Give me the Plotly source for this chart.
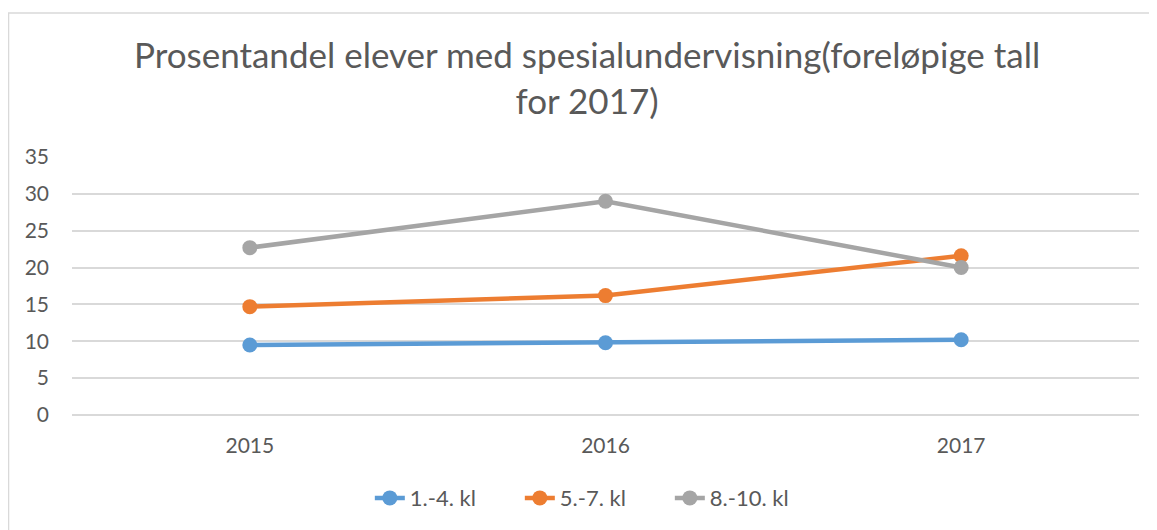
import plotly.graph_objects as go

years = ["2015", "2016", "2017"]
grade_1_4 = [9.5, 9.8, 10.2]
grade_5_7 = [14.7, 16.2, 21.6]
grade_8_10 = [22.7, 29.0, 20.0]

series = [
    ("1.-4. kl", grade_1_4, "#5B9BD5"),
    ("5.-7. kl", grade_5_7, "#ED7D31"),
    ("8.-10. kl", grade_8_10, "#A5A5A5"),
]

font_name = "Lato, Open Sans, sans-serif"
text_color = "#595959"

fig = go.Figure()
for name, values, color in series:
    fig.add_trace(go.Scatter(
        x=years, y=values, name=name, mode="lines+markers",
        line=dict(color=color, width=4.5),
        marker=dict(color=color, size=15)))

# page body adds 8px, so the figure is a bit smaller than the window
fig.update_layout(
    width=1149, height=522,
    margin=dict(l=64, r=18, t=149, b=114),
    paper_bgcolor="white", plot_bgcolor="white",
    font=dict(family=font_name, color=text_color),
    title=dict(
        text="Prosentandel elever med spesialundervisning(foreløpige tall<br>for 2017)",
        x=0.504, xanchor="center", y=0.885, yanchor="top",
        font=dict(size=35, color=text_color)),
    xaxis=dict(
        type="category", range=[-0.5, 2.5], showgrid=False,
        showline=False, ticks="", tickfont=dict(size=21),
        ticklabelstandoff=16),
    yaxis=dict(
        range=[0, 35], dtick=5, showgrid=True, gridcolor="#D9D9D9",
        gridwidth=1.5, zeroline=True, zerolinecolor="#D9D9D9",
        zerolinewidth=1.5, tickfont=dict(size=21), ticklabelstandoff=22),
    legend=dict(
        orientation="h", x=0.49, xanchor="center", y=-0.317,
        yanchor="middle", font=dict(size=22), entrywidth=105),
    shapes=[dict(
        type="rect", xref="paper", yref="paper",
        x0=-0.0595, y0=-0.46, x1=1.03, y1=1.558,
        line=dict(color="#D9D9D9", width=1.5), layer="below")],
)

fig.write_html("out.html")
